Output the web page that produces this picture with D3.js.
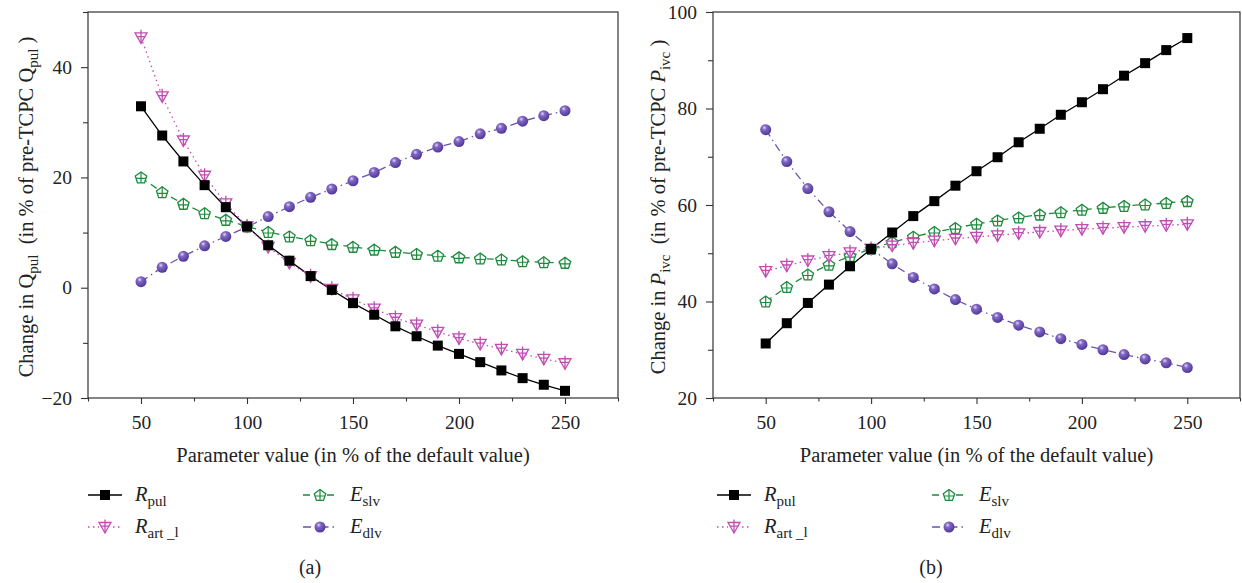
<!DOCTYPE html>
<head>
<meta charset="utf-8">
<style>
  body { margin: 0; background: #fff; }
  svg text { font-family: "Liberation Serif", "Times New Roman", serif; fill: #222; }
  .axis path, .axis line { stroke: #333; stroke-width: 1.1; }
  .axis text { font-size: 19.5px; font-family: "Liberation Serif", serif; fill: #222; }
</style>
</head>
<body>
<div id="chart"></div>
<script src="https://d3js.org/d3.v7.min.js"></script>
<script>
// parameter values (in % of default)
var params = [50, 60, 70, 80, 90, 100, 110, 120, 130, 140, 150, 160, 170, 180, 190, 200, 210, 220, 230, 240, 250];

// panel (a): change in Q_pul
var aRpul = [32.9, 27.6, 22.9, 18.6, 14.6, 11.1, 7.7, 4.9, 2.1, -0.4, -2.8, -4.9, -7.0, -8.8, -10.5, -12.0, -13.5, -15.0, -16.4, -17.6, -18.7];
var aRart = [45.4, 34.7, 26.7, 20.3, 15.3, 11.1, 7.4, 4.5, 2.1, -0.2, -2.1, -3.8, -5.5, -6.7, -8.0, -9.2, -10.2, -11.1, -12.0, -12.9, -13.7];
var aEslv = [20.0, 17.3, 15.2, 13.5, 12.3, 11.1, 10.1, 9.3, 8.6, 7.9, 7.4, 6.9, 6.5, 6.1, 5.8, 5.5, 5.3, 5.1, 4.8, 4.6, 4.5];
var aEdlv = [1.1, 3.7, 5.7, 7.6, 9.3, 11.0, 12.9, 14.7, 16.4, 17.9, 19.4, 20.9, 22.7, 24.2, 25.5, 26.5, 27.9, 28.9, 30.2, 31.2, 32.1];

// panel (b): change in P_ivc
var bRpul = [31.3, 35.5, 39.7, 43.5, 47.3, 50.9, 54.3, 57.7, 60.8, 64.0, 67.0, 69.9, 73.0, 75.8, 78.7, 81.3, 84.0, 86.8, 89.4, 92.1, 94.6];
var bRart = [46.3, 47.4, 48.5, 49.4, 50.2, 50.9, 51.6, 52.1, 52.6, 53.0, 53.4, 53.7, 54.1, 54.4, 54.7, 55.0, 55.2, 55.4, 55.6, 55.8, 56.0];
var bEslv = [40.0, 43.0, 45.6, 47.6, 49.4, 50.9, 52.3, 53.4, 54.4, 55.2, 56.1, 56.8, 57.4, 58.0, 58.5, 59.0, 59.4, 59.8, 60.1, 60.4, 60.8];
var bEdlv = [75.6, 69.0, 63.4, 58.6, 54.5, 50.9, 47.8, 45.0, 42.6, 40.4, 38.4, 36.7, 35.1, 33.7, 32.3, 31.1, 30.0, 29.0, 28.1, 27.3, 26.3];

// ticks
var xTicks = [50, 100, 150, 200, 250];
var xMinor = [25, 75, 125, 175, 225, 275];
var aYTicks = [-20, 0, 20, 40];
var aYMinor = [-10, 10, 30, 50];
var bYTicks = [20, 40, 60, 80, 100];
var bYMinor = [30, 50, 70, 90];

var W = 1242, H = 583;
var svg = d3.select("#chart").append("svg").attr("width", W).attr("height", H);

// sphere gradient
var defs = svg.append("defs");
var grad = defs.append("radialGradient").attr("id", "sphere")
    .attr("cx", "38%").attr("cy", "32%").attr("r", "70%");
grad.append("stop").attr("offset", "0%").attr("stop-color", "#e2d8f6");
grad.append("stop").attr("offset", "30%").attr("stop-color", "#8268c4");
grad.append("stop").attr("offset", "100%").attr("stop-color", "#4e3594");

var series = [
  {key: "Rpul", main: "R", sub: "pul", color: "#000", dash: null, marker: "square"},
  {key: "Rart", main: "R", sub: "art", sub2: "l", color: "#c04cb4", dash: "1.5,3.5", marker: "tri"},
  {key: "Eslv", main: "E", sub: "slv", color: "#1d8a3c", dash: "7,5", marker: "pent"},
  {key: "Edlv", main: "E", sub: "dlv", color: "#6a52b0", dash: "8,4,1.5,4", marker: "sphere"}
];

function drawMarker(g, type, color) {
  if (type == "square") {
    g.append("rect").attr("x", -5).attr("y", -5).attr("width", 10).attr("height", 10)
      .attr("fill", "#000");
  } else if (type == "tri") {
    g.append("path").attr("d", "M-6,-4.5L6,-4.5L0,6Z").attr("fill", "#fff")
      .attr("stroke", color).attr("stroke-width", 1.3);
    g.append("path").attr("d", "M0,-7.5L0,6M-4.2,-0.8L4.2,-0.8").attr("stroke", color).attr("stroke-width", 1.3);
  } else if (type == "pent") {
    var pts = d3.range(5).map(function(i) {
      var a = -Math.PI / 2 + i * 2 * Math.PI / 5;
      return [6 * Math.cos(a), 6 * Math.sin(a) + 0.5];
    });
    g.append("path").attr("d", "M" + pts.join("L") + "Z").attr("fill", "#fff")
      .attr("stroke", color).attr("stroke-width", 1.3);
    g.append("path").attr("d", "M0,-5.5L0,5.3M-5,1L5,1").attr("stroke", color).attr("stroke-width", 1.2);
  } else {
    g.append("circle").attr("r", 5.5).attr("fill", "url(#sphere)");
  }
}

function drawPanel(p) {
  var x = d3.scaleLinear().domain([25, 275]).range([p.left, p.right]);
  var y = d3.scaleLinear().domain(p.yDomain).range([398, 12]);
  var g = svg.append("g");

  // frame
  g.append("rect").attr("x", p.left).attr("y", 12)
    .attr("width", p.right - p.left).attr("height", 386)
    .attr("fill", "none").attr("stroke", "#333").attr("stroke-width", 1.2);

  // axes
  g.append("g").attr("class", "axis").attr("transform", "translate(0,398)")
    .call(d3.axisBottom(x).tickValues(xTicks).tickSize(6).tickPadding(11).tickFormat(d3.format("d")))
    .call(function(s) { s.select(".domain").remove(); });
  g.append("g").attr("class", "axis").attr("transform", "translate(0,398)")
    .call(d3.axisBottom(x).tickValues(xMinor).tickSize(3.5).tickFormat(""))
    .call(function(s) { s.select(".domain").remove(); });
  g.append("g").attr("class", "axis").attr("transform", "translate(" + p.left + ",0)")
    .call(d3.axisLeft(y).tickValues(p.yTicks).tickSize(7).tickPadding(9)
      .tickFormat(function(d) { return d < 0 ? "\u2212" + Math.abs(d) : d; }))
    .call(function(s) { s.select(".domain").remove(); });
  g.append("g").attr("class", "axis").attr("transform", "translate(" + p.left + ",0)")
    .call(d3.axisLeft(y).tickValues(p.yMinor).tickSize(5).tickFormat(""))
    .call(function(s) { s.select(".domain").remove(); });

  // x title
  g.append("text").attr("x", (p.left + p.right) / 2).attr("y", 462)
    .attr("text-anchor", "middle").attr("font-size", 20.5)
    .text("Parameter value (in % of the default value)");

  // y title
  var yt = g.append("text").attr("transform", "translate(" + p.titleX + ",207) rotate(-90)")
    .attr("text-anchor", "middle").attr("font-size", 20.5);
  yt.append("tspan").text("Change in ");
  yt.append("tspan").attr("font-style", p.italicVar ? "italic" : null).text(p.varName);
  yt.append("tspan").attr("font-size", 15).attr("dy", 5).text(p.varSub);
  yt.append("tspan").attr("dy", -5).text("\u2002(in % of pre-TCPC ");
  yt.append("tspan").attr("font-style", p.italicVar ? "italic" : null).text(p.varName);
  yt.append("tspan").attr("font-size", 15).attr("dy", 5).text(p.varSub);
  yt.append("tspan").attr("dy", -5).text(" )");

  var line = d3.line().x(function(d) { return x(d[0]); }).y(function(d) { return y(d[1]); });

  series.forEach(function(s, si) {
    var vals = p.data[si];
    var pts = params.map(function(v, i) { return [v, vals[i]]; });
    g.append("path").datum(pts).attr("d", line).attr("fill", "none")
      .attr("stroke", s.color).attr("stroke-width", 1.3)
      .attr("stroke-dasharray", s.dash);
  });
  series.slice().reverse().forEach(function(s) {
    var si = series.indexOf(s);
    var vals = p.data[si];
    params.forEach(function(v, i) {
      var m = g.append("g").attr("transform", "translate(" + x(v) + "," + y(vals[i]) + ")");
      drawMarker(m, s.marker, s.color);
    });
  });

  // legend
  series.forEach(function(s, i) {
    var col = i < 2 ? 0 : 1, row = i % 2;
    var lx = p.left + (col == 0 ? 0 : 215) + p.legShift;
    var ly = row == 0 ? 495 : 527;
    var lg = g.append("g");
    lg.append("line").attr("x1", lx).attr("x2", lx + 34).attr("y1", ly).attr("y2", ly)
      .attr("stroke", s.color).attr("stroke-width", 1.3).attr("stroke-dasharray", s.dash);
    var m = lg.append("g").attr("transform", "translate(" + (lx + 17) + "," + ly + ")");
    if (s.marker != "square" && s.marker != "sphere") {
      m.insert("rect").attr("x", -6).attr("y", -7).attr("width", 12).attr("height", 14).attr("fill", "#fff");
    }
    drawMarker(m, s.marker, s.color);
    var t = lg.append("text").attr("x", lx + 47).attr("y", ly + 6).attr("font-size", 20.5);
    t.append("tspan").attr("font-style", "italic").text(s.main);
    t.append("tspan").attr("font-size", 15).attr("dy", 5).text(s.sub);
    if (s.sub2) {
      t.append("tspan").attr("font-size", 15).text(" _");
      t.append("tspan").attr("font-size", 15).attr("dy", -1).text(s.sub2);
    }
  });

  g.append("text").attr("x", p.tagX).attr("y", 574).attr("text-anchor", "middle")
    .attr("font-size", 20).text(p.tag);
}

drawPanel({
  left: 88, right: 618, yDomain: [-20, 50], yTicks: aYTicks, yMinor: aYMinor,
  data: [aRpul, aRart, aEslv, aEdlv], varName: "Q", varSub: "pul", italicVar: false,
  titleX: 33, legShift: 0, tag: "(a)", tagX: 310
});
drawPanel({
  left: 713, right: 1240, yDomain: [20, 100], yTicks: bYTicks, yMinor: bYMinor,
  data: [bRpul, bRart, bEslv, bEdlv], varName: "P", varSub: "ivc", italicVar: true,
  titleX: 665, legShift: 4, tag: "(b)", tagX: 931
});
</script>
</body>
